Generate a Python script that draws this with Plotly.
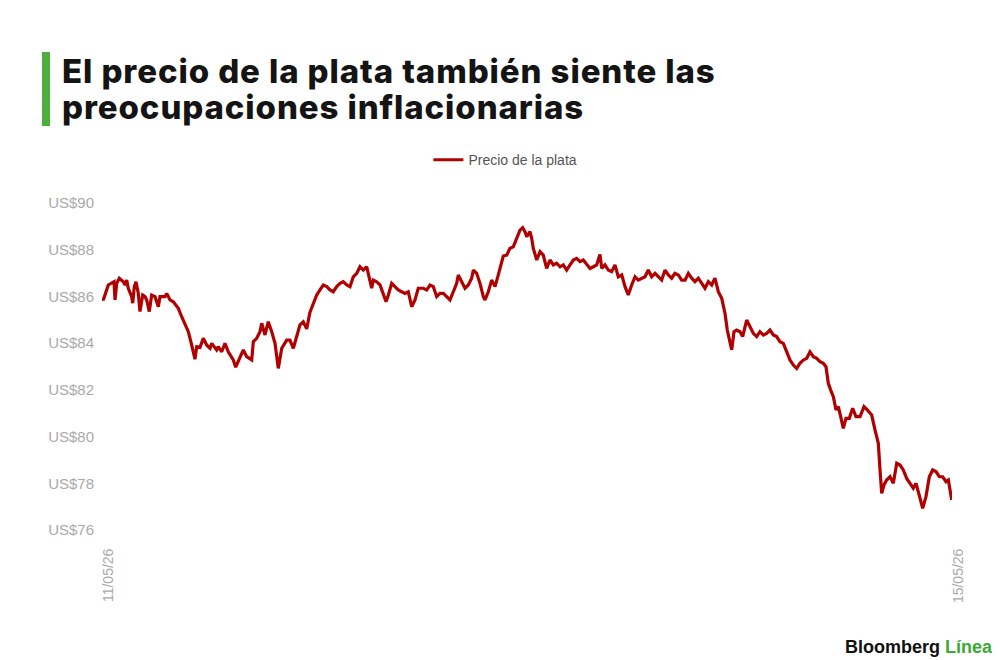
import pandas as pd
import plotly.graph_objects as go

# horas desde el 11/05/26 00:00 y precio de la plata (US$/oz)
horas = [
    0.00, 0.15, 0.71, 1.10, 1.36, 1.47, 1.66, 1.95, 2.22, 2.41, 2.60, 2.79, 2.97, 3.16, 3.35,
    3.47, 3.65, 3.84, 4.10, 4.29, 4.60, 4.86, 5.05, 5.34, 5.61, 5.99, 6.36, 6.55, 7.12, 7.31,
    7.68, 8.05, 8.36, 8.62, 9.00, 9.37, 9.75, 10.13, 10.50, 10.70, 11.07, 11.44, 11.82, 12.20,
    12.39, 12.95, 13.13, 13.52, 13.89, 14.26, 14.83, 15.10, 15.59, 15.96, 16.34, 16.91, 17.09,
    17.47, 17.84, 18.04, 18.41, 18.78, 19.17, 19.54, 19.91, 20.30, 20.86, 21.23, 21.61, 21.99,
    22.36, 22.73, 23.12, 23.49, 23.86, 24.25, 24.62, 24.99, 25.38, 25.75, 26.12, 26.51, 26.88,
    27.25, 27.64, 28.01, 28.38, 28.77, 29.14, 29.51, 29.90, 30.08, 30.27, 30.46, 30.64, 31.02,
    31.40, 31.77, 32.08, 32.34, 32.72, 33.09, 33.46, 33.85, 34.22, 34.59, 34.98, 35.35, 35.72,
    36.29, 36.67, 37.05, 37.42, 37.80, 38.17, 38.55, 38.93, 39.30, 39.68, 40.06, 40.24, 40.62,
    41.00, 41.37, 41.75, 41.94, 42.32, 42.69, 43.07, 43.26, 43.63, 44.01, 44.39, 44.76, 45.14,
    45.32, 45.71, 46.08, 46.45, 46.84, 47.21, 47.51, 47.77, 47.97, 48.34, 48.53, 48.71, 49.10,
    49.47, 49.84, 50.22, 50.60, 50.97, 51.35, 51.73, 52.10, 52.48, 52.86, 53.23, 53.61, 53.98,
    54.36, 54.74, 55.12, 55.49, 55.87, 56.24, 56.44, 56.81, 57.18, 57.56, 57.94, 58.31, 58.70,
    59.07, 59.44, 59.82, 60.20, 60.57, 60.95, 61.33, 61.70, 62.08, 62.46, 62.83, 63.21, 63.59,
    63.96, 64.34, 64.71, 65.09, 65.47, 65.85, 66.22, 66.60, 66.97, 67.35, 67.73, 68.10, 68.48,
    68.86, 69.23, 69.61, 69.99, 70.36, 70.62, 70.85, 71.12, 71.38, 71.68, 72.06, 72.36, 72.81,
    73.19, 73.56, 73.94, 74.31, 74.69, 75.07, 75.44, 75.82, 76.20, 76.57, 76.95, 77.33, 77.70,
    78.08, 78.46, 78.83, 79.21, 79.59, 79.96, 80.34, 80.72, 81.09, 81.47, 81.77, 82.03, 82.30,
    82.60, 82.90, 83.16, 83.43, 83.72, 84.03, 84.40, 84.78, 85.16, 85.61, 86.06, 86.43, 86.93,
    87.31, 87.68, 87.87, 88.06, 88.32, 88.62, 89.00, 89.37, 89.76, 90.13, 90.50, 90.88, 91.26,
    91.63, 91.94, 92.31, 92.69, 93.06, 93.44, 93.82, 94.19, 94.57, 94.95, 95.33, 95.59, 95.97,
]
precio = [
    85.92, 85.85, 86.49, 86.59, 86.63, 85.85, 86.56, 86.78, 86.70, 86.63, 86.49, 86.70, 86.35, 86.20, 85.99,
    85.71, 86.42, 86.63, 86.13, 85.35, 86.06, 85.99, 85.85, 85.35, 86.06, 85.99, 85.56, 85.99, 85.99, 86.13,
    85.85, 85.77, 85.63, 85.49, 85.13, 84.85, 84.49, 83.92, 83.31, 83.85, 83.82, 84.21, 83.92, 83.78,
    83.99, 83.71, 83.85, 83.63, 83.99, 83.63, 83.28, 82.97, 83.35, 83.71, 83.42, 83.28, 84.06,
    84.21, 84.49, 84.85, 84.35, 84.92, 84.49, 83.99, 82.92, 83.78, 84.13, 84.13, 83.78, 84.35,
    84.78, 84.91, 84.61, 85.33, 85.71, 86.06, 86.28, 86.49, 86.42, 86.28, 86.20, 86.42, 86.56,
    86.63, 86.49, 86.42, 86.84, 86.99, 87.27, 87.13, 87.27, 86.99, 86.78, 86.35, 86.70, 86.63,
    86.49, 86.13, 85.77, 86.06, 86.56, 86.42, 86.28, 86.20, 86.13, 86.20, 85.56, 85.85, 86.35,
    86.35, 86.28, 86.49, 86.42, 85.99, 86.13, 86.13, 85.99, 85.85, 86.20, 86.56, 86.92, 86.63,
    86.35, 86.49, 86.78, 87.13, 86.99, 86.56, 85.99, 85.85, 86.20, 86.70, 86.42, 86.92, 87.56,
    87.73, 87.77, 88.06, 88.12, 88.46, 88.84, 88.94, 88.77, 88.56, 88.77, 88.49, 88.06, 87.56,
    87.92, 87.77, 87.20, 87.56, 87.35, 87.42, 87.27, 87.35, 87.13, 87.35, 87.56, 87.63, 87.49,
    87.56, 87.35, 87.20, 87.27, 87.35, 87.80, 87.20, 87.35, 87.13, 87.06, 87.35, 86.84, 86.92,
    86.42, 86.06, 86.49, 86.84, 86.70, 86.78, 86.84, 87.13, 86.84, 86.99, 86.84, 86.70, 87.13,
    86.92, 86.78, 86.99, 86.92, 86.70, 86.70, 86.99, 86.78, 86.63, 86.78, 86.56, 86.35, 86.63,
    86.49, 86.78, 86.20, 85.92, 85.28, 84.56, 84.21, 83.71, 84.49, 84.56, 84.49, 84.28, 84.99,
    84.70, 84.42, 84.28, 84.49, 84.35, 84.42, 84.56, 84.35, 84.28, 84.06, 83.99, 83.63, 83.28,
    83.06, 82.92, 83.14, 83.28, 83.35, 83.63, 83.42, 83.35, 83.21, 83.14, 82.99, 82.28, 81.99,
    81.71, 81.14, 81.28, 80.85, 80.35, 80.78, 80.78, 81.21, 80.85, 80.85, 81.28, 81.14, 80.92,
    80.28, 79.71, 78.57, 77.57, 77.93, 78.14, 78.28, 78.00, 78.86, 78.78, 78.57, 78.21, 78.00,
    77.79, 78.00, 77.43, 76.93, 77.43, 78.28, 78.57, 78.50, 78.28, 78.28, 78.07, 78.14, 77.29,
]

inicio = pd.Timestamp("2026-05-11")
fin = pd.Timestamp("2026-05-15")
fechas = inicio + pd.to_timedelta(horas, unit="h")

y_ticks = [76, 78, 80, 82, 84, 86, 88, 90]

fig = go.Figure()
fig.add_trace(go.Scatter(
    x=fechas, y=precio, mode="lines", name="Precio de la plata",
    line=dict(color="#b00000", width=3.2),
))

# la pagina tiene 8px de margen, asi que la figura es 8px mas chica
fig.update_layout(
    width=992, height=652,
    paper_bgcolor="white", plot_bgcolor="white",
    margin=dict(l=94, r=48, t=195, b=130),
    font=dict(family="Liberation Sans", color="#aaaaaa", size=15),
    showlegend=True,
    legend=dict(orientation="h", x=0.384, xanchor="left", y=1.131, yanchor="middle",
                font=dict(size=14, color="#555555"), itemwidth=30),
    xaxis=dict(
        range=[inicio, fin], showgrid=False, zeroline=False, showline=False,
        tickvals=[inicio, fin], ticktext=["11/05/26", "15/05/26"], tickangle=-90,
        ticks="outside", ticklen=12, tickcolor="white", ticklabelshift=6,
        tickfont=dict(size=14, color="#aaaaaa"),
    ),
    yaxis=dict(
        range=[76, 90], showgrid=False, zeroline=False, showline=False,
        tickvals=y_ticks, ticktext=["US$%d" % v for v in y_ticks],
        ticks="outside", ticklen=4, tickcolor="white",
        tickfont=dict(size=15, color="#aaaaaa"),
    ),
)

# barra verde del titulo
fig.add_shape(type="rect", xref="paper", yref="paper",
              x0=-0.0706, x1=-0.0612, y0=1.2355, y1=1.4618,
              fillcolor="#4caf3c", line=dict(width=0))

titulo = ["El precio de la plata también siente las", "preocupaciones inflacionarias"]
for i, linea in enumerate(titulo):
    fig.add_annotation(
        xref="paper", yref="paper", x=-0.048, y=1.404 - i * 0.109,
        xanchor="left", yanchor="middle", showarrow=False, borderpad=0,
        text="<span style='letter-spacing:0.9px'>%s</span>" % linea,
        font=dict(family="Inter", size=33, weight=800, color="#141414"),
    )

fig.add_annotation(
    xref="paper", yref="paper", x=1.051, y=-0.357, xanchor="right", yanchor="middle",
    showarrow=False,
    text="<b>Bloomberg</b> <b><span style='color:#3aaa35'>Línea</span></b>",
    font=dict(family="Liberation Sans", size=18, color="#111111"),
)

fig.write_html("out.html")
